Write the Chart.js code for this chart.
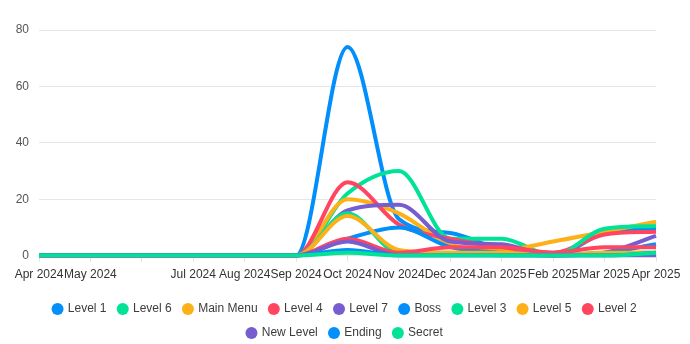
<!DOCTYPE html>
<html>
<head>
<meta charset="utf-8">
<script src="https://cdn.jsdelivr.net/npm/chart.js@4"></script>
<style>
    body { margin: 0; background: #fff; }
    #BOX_Chart { width: 690px; height: 344px; }
</style>
</head>
<body>
<div id="BOX_Chart"><canvas id="CHART_Levels"></canvas></div>
<script>
// months on the x axis, June keeps its slot but no label is drawn for it
const months = ['Apr 2024', 'May 2024', 'Jun 2024', 'Jul 2024', 'Aug 2024', 'Sep 2024', 'Oct 2024',
    'Nov 2024', 'Dec 2024', 'Jan 2025', 'Feb 2025', 'Mar 2025', 'Apr 2025'];
const tickLabels = ['Apr 2024', 'May 2024', '', 'Jul 2024', 'Aug 2024', 'Sep 2024', 'Oct 2024',
    'Nov 2024', 'Dec 2024', 'Jan 2025', 'Feb 2025', 'Mar 2025', 'Apr 2025'];

const levelNames = ['Level 1', 'Level 6', 'Main Menu', 'Level 4', 'Level 7', 'Boss',
    'Level 3', 'Level 5', 'Level 2', 'New Level', 'Ending', 'Secret'];

const level1 = [0, 0, 0, 0, 0, 0, 74, 13, 8, 2, 0, 8, 9.5];
const level6 = [0, 0, 0, 0, 0, 0, 22, 30, 6, 6, 0, 1, 1];
const mainMenu = [0, 0, 0, 0, 0, 0, 20, 15, 4, 2, 5, 8.5, 12];
const level4 = [0, 0, 0, 0, 0, 0, 26, 11, 6, 3, 1, 7.5, 8.5];
const level7 = [0, 0, 0, 0, 0, 0, 16, 18, 5, 4, 0, 1, 7];
const boss = [0, 0, 0, 0, 0, 0, 6, 10, 3, 1, 0, 1, 4];
const level3 = [0, 0, 0, 0, 0, 0, 15, 1, 1, 0, 0, 9.5, 10.5];
const level5 = [0, 0, 0, 0, 0, 0, 14, 2, 1, 1, 0, 1, 1];
const level2 = [0, 0, 0, 0, 0, 0, 6, 1, 3, 3, 1, 3, 3];
const newLevel = [0, 0, 0, 0, 0, 0, 5, 0, 0, 0, 0, 0, 0];
const ending = [0, 0, 0, 0, 0, 0, 2, 0, 0, 0, 0, 0, 1];
const secret = [0, 0, 0, 0, 0, 0, 1, 0, 0, 0, 0, 0, 1];

const levelValues = [level1, level6, mainMenu, level4, level7, boss,
    level3, level5, level2, newLevel, ending, secret];

const palette = ['#008FFB', '#00E396', '#FEB019', '#FF4560', '#775DD0'];

Chart.defaults.font.family = "'Helvetica Neue', Helvetica, Arial, sans-serif";
Chart.defaults.font.size = 12;

function createLevelChart() {
    let datasets = [];

    for (let i = 0; i < levelNames.length; i++) {
        let color = palette[i % palette.length];
        datasets.push({
            label: levelNames[i],
            data: levelValues[i],
            borderColor: color,
            backgroundColor: color,
            borderWidth: 4,
            cubicInterpolationMode: 'monotone',
            pointRadius: 0,
            pointHoverRadius: 0,
            // later series are painted over earlier ones
            order: levelNames.length - i
        });
    }

    let chartHtml = document.getElementById('CHART_Levels').getContext('2d');

    new Chart(chartHtml, {
        type: 'line',
        data: {
            labels: months,
            datasets: datasets
        },
        options: {
            responsive: true,
            maintainAspectRatio: false,
            animation: false,
            layout: {
                padding: { left: 15, right: 15, top: 30, bottom: -5 }
            },
            plugins: {
                legend: {
                    position: 'bottom',
                    labels: {
                        usePointStyle: true,
                        pointStyle: 'circle',
                        boxWidth: 8.5,
                        boxHeight: 8.5,
                        padding: 12,
                        color: '#3c3c3c',
                        sort: (a, b) => a.datasetIndex - b.datasetIndex,
                        // plain filled dots, no outline
                        generateLabels: (chart) => {
                            let items = Chart.defaults.plugins.legend.labels.generateLabels(chart);
                            items.forEach(item => { item.lineWidth = 0; });
                            return items;
                        }
                    }
                },
                tooltip: { enabled: false }
            },
            scales: {
                x: {
                    grid: {
                        drawOnChartArea: false,
                        tickLength: 6,
                        color: '#e3e3e3'
                    },
                    border: { color: '#e3e3e3' },
                    ticks: {
                        autoSkip: false,
                        maxRotation: 0,
                        color: '#333',
                        padding: 6,
                        callback: (value, index) => tickLabels[index]
                    },
                    afterFit: (scale) => {
                        scale.height += 3;
                        scale.paddingRight = 34;
                    }
                },
                y: {
                    beginAtZero: true,
                    grid: {
                        drawTicks: false,
                        color: '#e6e6e6'
                    },
                    border: { display: false },
                    ticks: {
                        stepSize: 20,
                        padding: 10,
                        color: '#555'
                    },
                    afterFit: (scale) => { scale.width = 24; }
                }
            }
        }
    });
}

createLevelChart();
</script>
</body>
</html>
